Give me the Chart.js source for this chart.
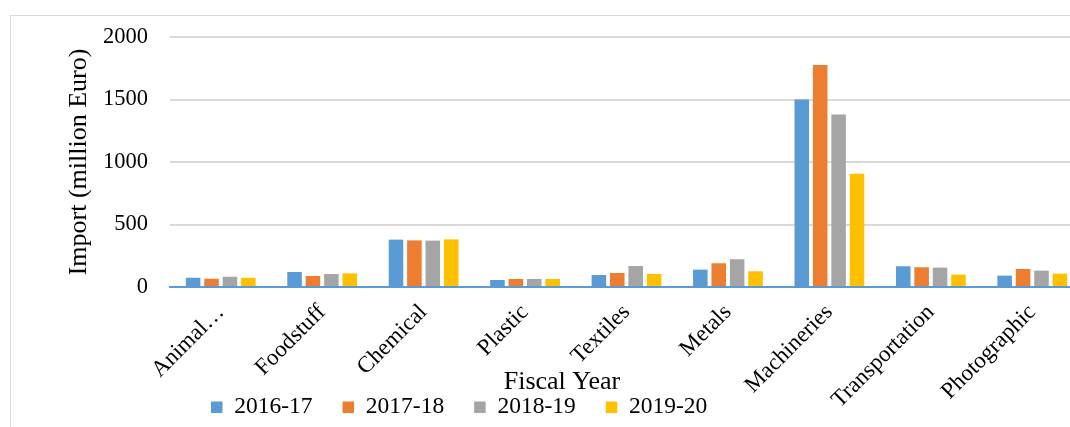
<!DOCTYPE html>
<html>
<head>
<meta charset="utf-8">
<title>Import by product group</title>
<script src="https://cdn.jsdelivr.net/npm/chart.js@4.4.1/dist/chart.umd.min.js"></script>
<style>
  html, body { margin: 0; padding: 0; overflow: hidden; background: #ffffff; }
  #frame {
    position: absolute; left: 10px; top: 15px;
    width: 1200px; height: 500px;
    border: 1px solid #d9d9d9;
  }
  #chartBox { position: absolute; left: 0; top: 0; width: 1083px; height: 429px; }
</style>
</head>
<body>
<div id="frame"></div>
<div id="chartBox"><canvas id="importChart"></canvas></div>
<script>
// Product groups and yearly import values (million Euro)
const categories = ['Animal\u2026', 'Foodstuff', 'Chemical', 'Plastic', 'Textiles', 'Metals', 'Machineries', 'Transportation', 'Photographic'];
const seriesNames = ['2016-17', '2017-18', '2018-19', '2019-20'];
const fy201617 = [74, 120, 379, 56, 96, 139, 1500, 166, 91];
const fy201718 = [66, 88, 373, 64, 112, 190, 1776, 158, 144];
const fy201819 = [82, 104, 371, 64, 168, 222, 1380, 155, 131];
const fy201920 = [74, 109, 381, 64, 104, 126, 907, 99, 107];
const yTicks = [0, 500, 1000, 1500, 2000];
const yTitle = 'Import (million Euro)';
const xTitle = 'Fiscal Year';

const colors = ['#5B9BD5', '#ED7D31', '#A5A5A5', '#FFC000'];
const serif = '"Liberation Serif", "Times New Roman", serif';

// Legend row starts under the first category; axis caption sits above it,
// overlapping the rotated category labels like the office chart does
const captionPlugin = {
  id: 'captionPlugin',
  afterLayout(chart) {
    const lg = chart.legend;
    const pad = lg.options.labels.padding;
    lg.left = 10;
    lg.right = 2 * 211 - lg.left - pad + lg.lineWidths[0];
    // let the rotated labels run down past the legend band
    const xs = chart.scales.x;
    xs.bottom = chart.height;
    xs.height = xs.bottom - xs.top;
  },
  afterDraw(chart) {
    const { ctx, chartArea } = chart;
    ctx.save();
    ctx.font = '26px ' + serif;
    ctx.fillStyle = '#000000';
    ctx.textAlign = 'center';
    ctx.textBaseline = 'alphabetic';
    ctx.fillText(xTitle, chartArea.left + 392, chartArea.bottom + 101.5);
    ctx.restore();
  }
};

const ctx = document.getElementById('importChart').getContext('2d');
new Chart(ctx, {
  type: 'bar',
  data: {
    labels: categories,
    datasets: [fy201617, fy201718, fy201819, fy201920].map((values, i) => ({
      label: seriesNames[i],
      data: values,
      backgroundColor: colors[i],
      borderWidth: 0,
      categoryPercentage: 0.726,
      barPercentage: 0.79
    }))
  },
  options: {
    responsive: true,
    maintainAspectRatio: false,
    animation: false,
    layout: { padding: { left: 10, top: 37, right: 0, bottom: 0 } },
    plugins: {
      tooltip: { enabled: false },
      legend: {
        position: 'bottom',
        labels: {
          boxWidth: 11.5,
          boxHeight: 11.5,
          padding: 30,
          color: '#000000',
          font: { family: serif, size: 23.5 }
        }
      }
    },
    scales: {
      x: {
        grid: { display: false },
        border: { display: true, color: '#5B9BD5', width: 2 },
        ticks: {
          color: '#000000',
          font: { family: serif, size: 23 },
          minRotation: 45,
          maxRotation: 45,
          autoSkip: false,
          padding: 4
        },
        afterFit(scale) {
          scale.height = 78.5;
        }
      },
      y: {
        min: 0,
        max: 2000,
        afterBuildTicks(scale) {
          scale.ticks = yTicks.map(v => ({ value: v }));
        },
        grid: { color: '#d9d9d9', lineWidth: 2, drawTicks: false },
        border: { display: false },
        ticks: {
          color: '#000000',
          padding: 22,
          font: { family: serif, size: 22.5 },
          callback: value => String(value)
        },
        title: {
          display: true,
          text: yTitle,
          color: '#000000',
          padding: { top: 54, bottom: 0 },
          font: { family: serif, size: 26 }
        },
        afterFit(scale) {
          scale.width = 160;
        }
      }
    }
  },
  plugins: [captionPlugin]
});
</script>
</body>
</html>
